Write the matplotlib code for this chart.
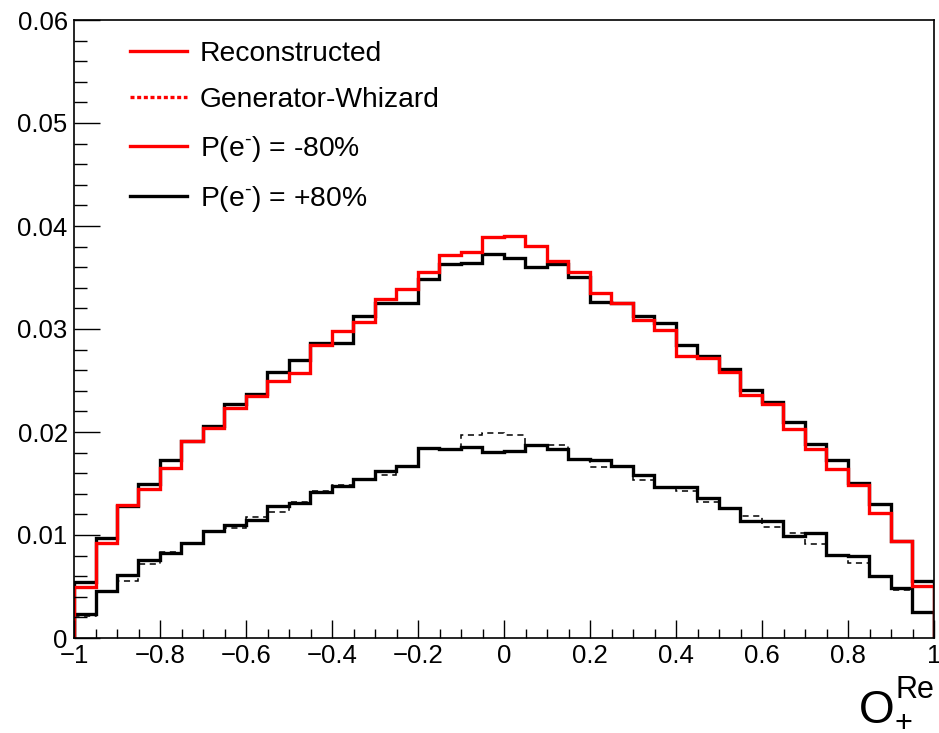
import numpy as np
import matplotlib
matplotlib.use("Agg")
import matplotlib.pyplot as plt
from matplotlib.lines import Line2D

plt.rcParams['font.family'] = ['Liberation Sans', 'DejaVu Sans']
plt.rcParams['mathtext.fontset'] = 'custom'
plt.rcParams['mathtext.rm'] = 'Liberation Sans'
plt.rcParams['mathtext.it'] = 'Liberation Sans'
plt.rcParams['mathtext.bf'] = 'Liberation Sans:bold'

# 40 bins from -1 to 1
edges = np.linspace(-1, 1, 41)

# reconstructed, P(e-) = -80%  (red, upper)
reco_m80 = [0.00492, 0.00926, 0.01291, 0.01450, 0.01654, 0.01913, 0.02039, 0.02236,
            0.02350, 0.02498, 0.02576, 0.02845, 0.02984, 0.03071, 0.03288, 0.03388,
            0.03550, 0.03718, 0.03751, 0.03896, 0.03906, 0.03806, 0.03660, 0.03550,
            0.03346, 0.03256, 0.03087, 0.02990, 0.02741, 0.02715, 0.02586, 0.02359,
            0.02272, 0.02026, 0.01832, 0.01638, 0.01485, 0.01217, 0.00945, 0.00505]

# reconstructed, P(e-) = +80%  (black, upper)
reco_p80 = [0.00547, 0.00968, 0.01282, 0.01500, 0.01728, 0.01910, 0.02060, 0.02272,
            0.02369, 0.02586, 0.02699, 0.02861, 0.02861, 0.03126, 0.03256, 0.03256,
            0.03485, 0.03628, 0.03638, 0.03728, 0.03693, 0.03599, 0.03628, 0.03508,
            0.03265, 0.03256, 0.03129, 0.03055, 0.02841, 0.02738, 0.02612, 0.02408,
            0.02288, 0.02100, 0.01883, 0.01728, 0.01508, 0.01301, 0.00945, 0.00553]

# lower pair: solid and generator (dashed)
low_reco = [0.00230, 0.00460, 0.00615, 0.00757, 0.00822, 0.00926, 0.01039, 0.01097,
            0.01146, 0.01285, 0.01314, 0.01414, 0.01476, 0.01544, 0.01625, 0.01673,
            0.01841, 0.01832, 0.01858, 0.01803, 0.01819, 0.01874, 0.01832, 0.01738,
            0.01728, 0.01670, 0.01583, 0.01469, 0.01463, 0.01362, 0.01259, 0.01139,
            0.01139, 0.00990, 0.01016, 0.00806, 0.00799, 0.00602, 0.00489, 0.00256]

low_gen = [0.00210, 0.00460, 0.00557, 0.00718, 0.00832, 0.00926, 0.01039, 0.01065,
           0.01178, 0.01227, 0.01324, 0.01430, 0.01485, 0.01544, 0.01583, 0.01673,
           0.01841, 0.01832, 0.01971, 0.01987, 0.01971, 0.01864, 0.01874, 0.01738,
           0.01663, 0.01670, 0.01534, 0.01453, 0.01430, 0.01324, 0.01259, 0.01184,
           0.01074, 0.01016, 0.00909, 0.00806, 0.00725, 0.00602, 0.00466, 0.00256]

xticks = [-1, -0.8, -0.6, -0.4, -0.2, 0, 0.2, 0.4, 0.6, 0.8, 1]
xticklabels = ["\u22121", "\u22120.8", "\u22120.6", "\u22120.4", "\u22120.2", "0",
               "0.2", "0.4", "0.6", "0.8", "1"]
yticks = [0, 0.01, 0.02, 0.03, 0.04, 0.05, 0.06]
yticklabels = ["0", "0.01", "0.02", "0.03", "0.04", "0.05", "0.06"]

W, H = 939, 733
fig = plt.figure(figsize=(W / 100, H / 100), dpi=100)
ax = fig.add_axes([74 / W, (H - 638) / H, (934 - 74) / W, (638 - 20) / H])

lw = 2.4
ax.stairs(low_gen, edges, color="black", lw=1.1, ls=(0, (4, 3)), baseline=0)
ax.stairs(low_reco, edges, color="black", lw=lw, baseline=0)
ax.stairs(reco_p80, edges, color="black", lw=lw, baseline=0)
ax.stairs(reco_m80, edges, color="red", lw=lw, baseline=0)

ax.set_xlim(-1, 1)
ax.set_ylim(0, 0.06)

ax.set_xticks(xticks)
ax.set_xticklabels(xticklabels)
ax.set_xticks(np.arange(-1, 1.001, 0.05), minor=True)
ax.set_yticks(yticks)
ax.set_yticklabels(yticklabels)
ax.set_yticks(np.arange(0, 0.0601, 0.002), minor=True)

ax.tick_params(axis="both", which="both", direction="in", top=False, right=False,
               labelsize=18.5, width=1)
ax.tick_params(axis="x", which="major", length=13, pad=4)
ax.tick_params(axis="x", which="minor", length=6.5)
ax.tick_params(axis="y", which="major", length=18.5, pad=4.5)
ax.tick_params(axis="y", which="minor", length=9.4)
for s in ax.spines.values():
    s.set_linewidth(1.2)

handles = [
    Line2D([], [], color="red", lw=2.4),
    Line2D([], [], color="red", lw=2.4, ls=(0, (1.2, 0.8))),
    Line2D([], [], color="red", lw=2.4),
    Line2D([], [], color="black", lw=2.4),
]
labels = ["Reconstructed", "Generator-Whizard",
          "P(e$^{\u2010}$) = -80%", "P(e$^{\u2010}$) = +80%"]
ax.legend(handles, labels, loc="upper left", bbox_to_anchor=(0.065, 0.966),
          frameon=False, fontsize=20.3, handlelength=2.02, handletextpad=0.45,
          labelspacing=0.72, borderpad=0, borderaxespad=0)

# axis title O_+^Re, placed at the bottom right like ROOT does
fig.text(895 / W, 1 - 723 / H, "O", fontsize=33, ha="right", va="baseline")
fig.text(896 / W, 1 - 698 / H, "Re", fontsize=22, ha="left", va="baseline")
fig.text(903 / W, 1 - 724 / H, "+", fontsize=22, ha="center", va="center")

fig.savefig("out.png", dpi=100)
